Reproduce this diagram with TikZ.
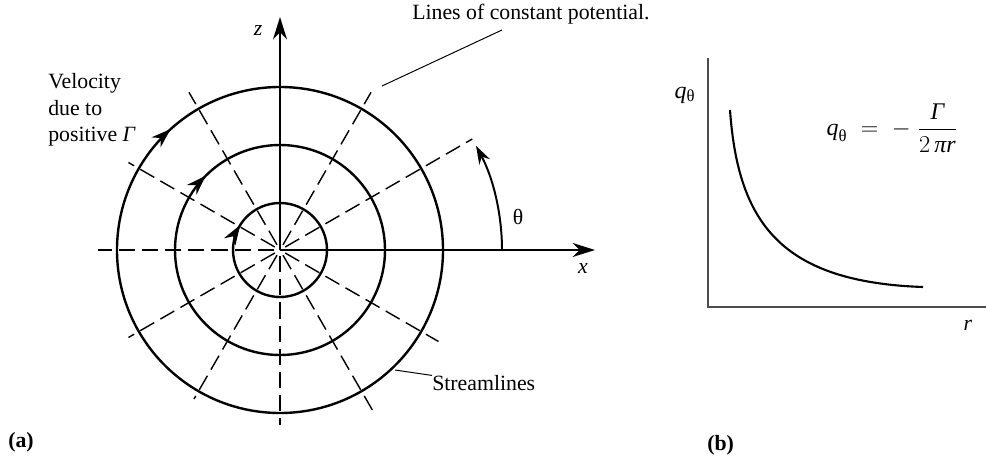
\documentclass[tikz,border=0pt]{standalone}
\usepackage{amsmath}
\usepackage{fontspec}
\setmainfont{Liberation Serif}
\usetikzlibrary{positioning}
\usetikzlibrary{arrows.meta}
\usetikzlibrary{decorations.markings}

\begin{document}
\begin{tikzpicture}[x=0.025cm, y=0.025cm,
		stream line/.style={black, line width=1.7pt},
		potential line/.style={black, line width=1.0pt, dash pattern=on 11.5pt off 5pt},
		axis line/.style={black, line width=1.4pt},
		leader/.style={black, line width=0.7pt},
		label text/.style={font=\fontsize{15.5}{19}\selectfont, inner sep=0pt},
		flow arrow/.style={postaction={decorate}, decoration={markings,
			mark=at position #1 with {\arrowreversed{Stealth[length=14pt, width=9.5pt]}}}}
		]
		\useasboundingbox (0,0) rectangle (986,462);
		% (a) vortex
		\coordinate (c) at (280,212);
		\coordinate (zend) at (280,445);
		\coordinate (xend) at (595,212);
		\foreach \a/\l in {30/222,60/182,120/182,150/175,180/182,210/175,240/172,270/175,300/190,330/183}
			\draw[potential line] (c) ++(\a:6) -- ++(\a:{\l-6});
		\draw[stream line, flow arrow=0.411] (c) circle[radius=47];
		\draw[stream line, flow arrow=0.375] (c) circle[radius=105];
		\draw[stream line, flow arrow=0.367] (c) circle[radius=163];
		\draw[axis line, -{Stealth[length=16pt, width=10pt]}] (c) -- (zend);
		\draw[axis line, -{Stealth[length=16pt, width=10pt]}] (c) -- (xend);
		\draw[axis line, -{Stealth[length=13pt, width=8.5pt]}] (c) ++(0:222) arc[start angle=0, end angle=28, radius=222];
		\node[label text] (zlab) at (258,432) {\textit{z}};
		\node[label text] (xlab) at (583,194) {\textit{x}};
		\node[label text] (theta) at (518,245) {θ};
		\node[label text, anchor=west, align=left] (velocity) at (48,352) {Velocity\\due to\\positive \textit{Γ}};
		\node[label text, anchor=west] (lines) at (412,448) {Lines of constant potential.};
		\coordinate (lp top) at (502,432);
		\coordinate (lp end) at (382,376);
		\draw[leader] (lp top) -- (lp end);
		\node[label text, anchor=west] (stream) at (432,79) {Streamlines};
		\coordinate (sl end) at (395,92);
		\draw[leader] (stream) -- (sl end);
		\node[label text, anchor=west, font=\fontsize{15.5}{19}\selectfont\bfseries] (a) at (8,20) {(a)};
		% (b) velocity against radius
		\coordinate (o) at (708,155);
		\coordinate (qtop) at (708,404);
		\coordinate (rend) at (986,155);
		\coordinate (q start) at (730,352);
		\coordinate (q end) at (923,175);
		\draw[axis line, black!70] (qtop) -- (o) -- (rend);
		\draw[stream line, line width=1.5pt] (q start) .. controls (738,240) and (780,180) .. (q end);
		\node[label text, font=\fontsize{17}{20}\selectfont] (qlab) at (685,367) {\textit{q}\textsubscript{θ}};
		\node[label text] (rlab) at (968,137) {\textit{r}};
		\node[label text, font=\fontsize{17}{20}\selectfont] (formula) at (892,334) {$\textit{q}_{\text{θ}} \;=\; -\;\dfrac{\textit{Γ}}{2\,\textit{πr}}$};
		\node[label text, anchor=west, font=\fontsize{15.5}{19}\selectfont\bfseries] (b) at (707,17) {(b)};
	\end{tikzpicture}
\end{document}
